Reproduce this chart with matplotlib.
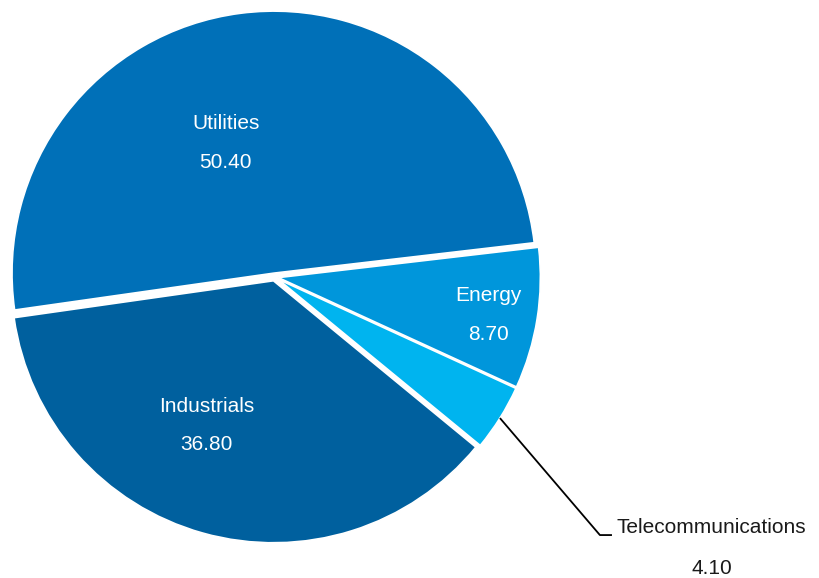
import numpy as np
import matplotlib.pyplot as plt

# data (clockwise from the left edge)
sectors = ['Utilities', 'Energy', 'Telecommunications', 'Industrials']
weights = [50.40, 8.70, 4.10, 36.80]
colors = ['#0070B8', '#0096DB', '#00B4EF', '#00609E']

# label placement: polar (fraction of radius, angle in degrees), None -> outside w/ leader
label_pos = [(0.545, 110.0), (0.83, -10.0), None, (0.623, 245.5)]

plt.rcParams['font.family'] = ['Liberation Sans', 'DejaVu Sans']
FS = 15

fig = plt.figure(figsize=(8.19, 5.78), dpi=100)
ax = fig.add_axes([0, 0, 1, 1])

R = 1.0
wedges, _ = ax.pie(weights, colors=colors, radius=R, startangle=188.1,
                   counterclock=False, explode=[0.015] * len(weights),
                   wedgeprops=dict(edgecolor='white', linewidth=1.2))

for w, name, val, pos in zip(wedges, sectors, weights, label_pos):
    if pos is None:
        # outside label with a leader line
        mid = np.deg2rad((w.theta1 + w.theta2) / 2)
        x0, y0 = R * np.cos(mid) + w.center[0], R * np.sin(mid) + w.center[1]
        x1, y1 = 1.242, -0.985
        x2 = 1.288
        ax.plot([x0, x1, x2], [y0, y1, y1], color='black', lw=1.3,
                solid_capstyle='butt', clip_on=False)
        tx = 1.307
        ax.text(tx, y1 + 0.008, name, ha='left', va='baseline',
                fontsize=FS, color='#1a1a1a')
        ax.text(tx + 0.363, y1 - 0.126, f'{val:.2f}', ha='center', va='center',
                fontsize=FS, color='#1a1a1a')
        continue
    r, ang = pos
    a = np.deg2rad(ang)
    cx, cy = r * np.cos(a), r * np.sin(a)
    ax.text(cx, cy + 0.074, name, ha='center', va='center', fontsize=FS, color='white')
    ax.text(cx, cy - 0.074, f'{val:.2f}', ha='center', va='center', fontsize=FS, color='white')

ax.set_xlim(-1.0477, 2.0782)
ax.set_ylim(-1.1489, 1.0573)
ax.set_aspect('equal', adjustable='box')
ax.axis('off')

fig.savefig('out.png', dpi=100)
